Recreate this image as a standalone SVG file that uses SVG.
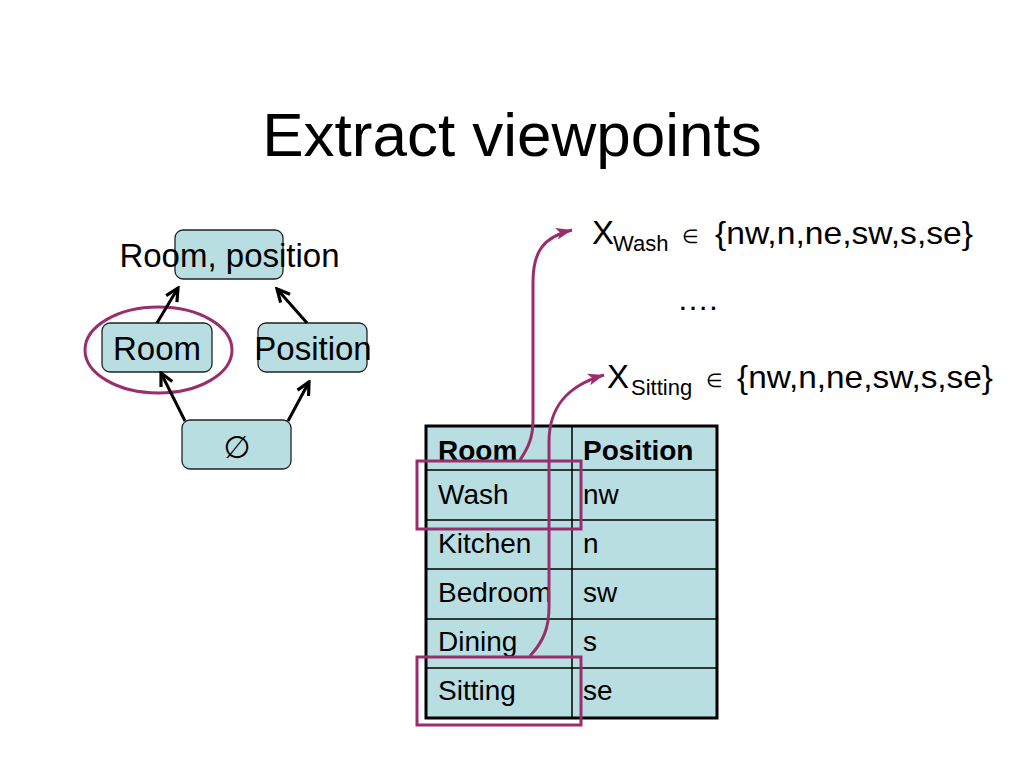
<svg xmlns="http://www.w3.org/2000/svg" width="1024" height="768" viewBox="0 0 1024 768">
<defs>
<style>
text{font-family:"Liberation Sans",Arial,"DejaVu Sans",sans-serif;fill:#000}
.node{fill:#B8DEE2;stroke:#222;stroke-width:1.3}
.big{font-size:33px}
.tbl{font-size:28px}
.hdr{font-size:28px;font-weight:bold}
.set{font-size:32px}
.sub{font-size:22px}
.conn{stroke:#000;stroke-width:3;fill:none;marker-end:url(#blk)}
.mag{stroke:#9A2D6C;stroke-width:3;fill:none}
.grid{stroke:#000;stroke-width:1.5}
</style>
<marker id="blk" markerUnits="userSpaceOnUse" markerWidth="16" markerHeight="16" refX="12" refY="6" orient="auto" viewBox="0 0 14 12">
<path d="M1,0.5 L12,6 L1,11.5" fill="none" stroke="#000" stroke-width="2.8"/>
</marker>
<marker id="mg" markerUnits="userSpaceOnUse" markerWidth="18" markerHeight="14" refX="16" refY="6" orient="auto" viewBox="0 0 18 12">
<path d="M0,0 L16,6 L0,12 L4,6 z" fill="#9A2D6C"/>
</marker>
</defs>
<rect width="1024" height="768" fill="#fff"/>
<text x="512" y="156" font-size="62" text-anchor="middle">Extract viewpoints</text>

<g id="node-room-position">
<rect class="node" x="175" y="230" width="108" height="49" rx="8"/>
<text class="big" x="229.5" y="267" text-anchor="middle">Room, position</text>
</g>
<g id="node-room">
<rect class="node" x="102" y="323" width="110" height="49" rx="8"/>
<text class="big" x="157" y="360" text-anchor="middle">Room</text>
</g>
<g id="node-position">
<rect class="node" x="258" y="323" width="109" height="49" rx="8"/>
<text class="big" x="313" y="360" text-anchor="middle">Position</text>
</g>
<g id="node-empty">
<rect class="node" x="182" y="420" width="109" height="49" rx="8"/>
<text x="237" y="458" font-size="31" text-anchor="middle" style="font-family:'DejaVu Sans',sans-serif">∅</text>
</g>
<g id="highlight-room">
<ellipse cx="158.5" cy="350" rx="73.5" ry="43" class="mag"/>
</g>

<g id="connectors">
<line class="conn" x1="157" y1="323" x2="178" y2="288"/>
<line class="conn" x1="307" y1="323" x2="277" y2="289"/>
<line class="conn" x1="185" y1="421" x2="161" y2="373"/>
<line class="conn" x1="288" y1="421" x2="309" y2="382"/>
</g>

<g id="var-wash">
<text x="592" y="244" font-size="33">X</text>
<text class="sub" x="613" y="251">Wash</text>
<text x="682" y="243" font-size="19">∈</text>
<text class="set" x="715" y="244" textLength="258" lengthAdjust="spacingAndGlyphs">{nw,n,ne,sw,s,se}</text>
</g>
<text class="set" x="677" y="310">….</text>
<g id="var-sitting">
<text x="607" y="388" font-size="33">X</text>
<text class="sub" x="631" y="395">Sitting</text>
<text x="706" y="387" font-size="19">∈</text>
<text class="set" x="737" y="388" textLength="256" lengthAdjust="spacingAndGlyphs">{nw,n,ne,sw,s,se}</text>
</g>

<g id="table">
<rect x="426" y="426" width="291" height="292" fill="#B8DEE2"/>
<line class="grid" x1="426" y1="470" x2="717" y2="470"/>
<line class="grid" x1="426" y1="520" x2="717" y2="520"/>
<line class="grid" x1="426" y1="569" x2="717" y2="569"/>
<line class="grid" x1="426" y1="619" x2="717" y2="619"/>
<line class="grid" x1="426" y1="668" x2="717" y2="668"/>
<line class="grid" x1="572" y1="426" x2="572" y2="718"/>
<rect x="426" y="426" width="291" height="292" fill="none" stroke="#000" stroke-width="3"/>
<text class="hdr" x="438" y="460">Room</text>
<text class="hdr" x="583" y="460">Position</text>
<text class="tbl" x="438" y="504">Wash</text>
<text class="tbl" x="583" y="504">nw</text>
<text class="tbl" x="438" y="553">Kitchen</text>
<text class="tbl" x="583" y="553">n</text>
<text class="tbl" x="438" y="602">Bedroom</text>
<text class="tbl" x="583" y="602">sw</text>
<text class="tbl" x="438" y="651">Dining</text>
<text class="tbl" x="583" y="651">s</text>
<text class="tbl" x="438" y="700">Sitting</text>
<text class="tbl" x="583" y="700">se</text>
</g>

<g id="highlights">
<rect class="mag" x="417" y="461" width="164" height="68"/>
<rect class="mag" x="417" y="657" width="164" height="68"/>
</g>

<g id="mapping-connectors">
<path class="mag" marker-end="url(#mg)" d="M520,460 C528,448 533,438 533,420 L533,282 C533,252 543,237 572,230"/>
<path class="mag" marker-end="url(#mg)" d="M530,656 C544,641 549,627 549,607 L549,442 C549,408 566,386 604,375"/>
</g>
</svg>
